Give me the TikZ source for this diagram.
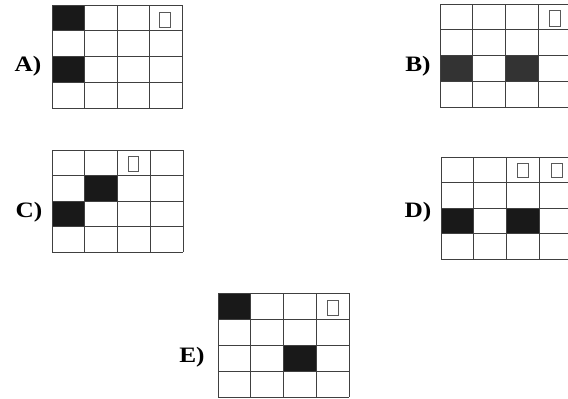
\documentclass[tikz,border=0pt]{standalone}
\usepackage{fontspec}
\setmainfont{Liberation Serif}
\tikzset{
  gridline/.style={draw=black!75, line width=1pt},
  darkcell/.style={fill=black!90},
  midcell/.style={fill=black!80},
  smallbox/.style={draw=black!65, line width=0.9pt},
  optlabel/.style={font=\bfseries\fontsize{22}{22}\selectfont, xscale=1.15, inner sep=0pt}
}
\newcommand\pgrid[6]{%
  \begin{scope}[shift={(#1,#2)}]
    \foreach \c/\r in {#5} \fill[#6] (\c*#3,\r*#4) rectangle ++(#3,#4);
    \foreach \i in {0,...,4} \draw[gridline] (\i*#3,0) -- (\i*#3,4*#4);
    \foreach \i in {0,...,4} \draw[gridline] (0,\i*#4) -- (4*#3,\i*#4);
  \end{scope}}
\begin{document}
\begin{tikzpicture}[x=1pt,y=-1pt]
\fill[white] (0,0) rectangle (568,399);
\clip (0,0) rectangle (568,399);
% A
\pgrid{52}{5}{32.5}{25.9}{0/0,0/2}{darkcell}
\draw[smallbox] (159,12) rectangle (170,27);
\node[optlabel] (la) at (28,66) {A)};
% B
\pgrid{440}{4}{32.8}{25.8}{0/2,2/2}{midcell}
\draw[smallbox] (549,10) rectangle (560,26);
\node[optlabel] (lb) at (418,66) {B)};
% C
\pgrid{52}{150}{32.75}{25.5}{1/1,0/2}{darkcell}
\draw[smallbox] (128,156) rectangle (138,171);
\node[optlabel] (lc) at (29,212) {C)};
% D
\pgrid{441}{157}{32.8}{25.5}{0/2,2/2}{darkcell}
\draw[smallbox] (517,163) rectangle (528,177);
\draw[smallbox] (551,163) rectangle (562,177);
\node[optlabel] (ld) at (418,212) {D)};
% E
\pgrid{218}{293}{32.75}{26}{0/0,2/2}{darkcell}
\draw[smallbox] (327,300) rectangle (338,315);
\node[optlabel] (le) at (192,357) {E)};
\end{tikzpicture}
\end{document}
